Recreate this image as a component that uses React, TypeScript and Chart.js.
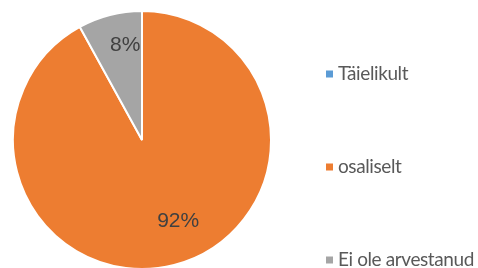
import React, { useEffect, useRef } from "react";
import { Chart, registerables } from "chart.js";

Chart.register(...registerables);

const categories = ["Täielikult", "osaliselt", "Ei ole arvestanud"];
const values = [0, 92, 8];
const valueLabels = ["0%", "92%", "8%"];
const colors = ["#5B9BD5", "#ED7D31", "#A5A5A5"];

const sliceLabelPlugin = {
  id: "sliceLabels",
  afterDatasetsDraw(chart: any, _args: any, opts: any) {
    const ctx = chart.ctx;
    const meta = chart.getDatasetMeta(0);
    ctx.save();
    ctx.font = "21px 'Liberation Sans', Arial, sans-serif";
    ctx.fillStyle = "#404040";
    ctx.textAlign = "center";
    ctx.textBaseline = "middle";
    meta.data.forEach((arc: any, i: number) => {
      if (!values[i]) return;
      const p = arc.getProps(["x", "y", "startAngle", "endAngle", "outerRadius"], true);
      const mid = (p.startAngle + p.endAngle) / 2 + (opts.shift[i] * Math.PI) / 180;
      const r = p.outerRadius * opts.frac[i];
      ctx.fillText(valueLabels[i], p.x + Math.cos(mid) * r, p.y + Math.sin(mid) * r);
    });
    ctx.restore();
  },
};

const sideLegendPlugin = {
  id: "sideLegend",
  afterDraw(chart: any, _args: any, opts: any) {
    const ctx = chart.ctx;
    ctx.save();
    ctx.font = "19px Lato, 'Noto Sans', sans-serif";
    ctx.textBaseline = "middle";
    ctx.textAlign = "left";
    try {
      (ctx as any).letterSpacing = "-0.4px";
    } catch (e) {}
    categories.forEach((c, i) => {
      const y = opts.top + i * opts.step;
      ctx.fillStyle = colors[i];
      ctx.fillRect(opts.x, y - 3.5, 7, 7);
      ctx.fillStyle = "#595959";
      ctx.fillText(c, opts.x + 12, y);
    });
    ctx.restore();
  },
};

export default function App() {
  const ref = useRef<HTMLCanvasElement>(null);
  useEffect(() => {
    if (!ref.current) return;
    const chart = new Chart(ref.current, {
      type: "pie",
      data: {
        labels: categories,
        datasets: [
          {
            data: values,
            backgroundColor: colors,
            borderColor: "#ffffff",
            borderWidth: 2,
          },
        ],
      },
      options: {
        responsive: false,
        animation: false,
        devicePixelRatio: 1,
        layout: { padding: { left: 12, top: 10, right: 206, bottom: 2 } },
        plugins: {
          legend: { display: false },
          tooltip: { enabled: false },
          sliceLabels: { frac: [0.7, 0.69, 0.75], shift: [0, -9.6, 4.4] },
          sideLegend: { x: 326, top: 74, step: 93 },
        } as any,
      },
      plugins: [sliceLabelPlugin, sideLegendPlugin],
    });
    return () => chart.destroy();
  }, []);
  return (
    <div
      style={{
        position: "fixed",
        left: 0,
        top: 0,
        width: 478,
        height: 268,
        overflow: "hidden",
        background: "#fff",
      }}
    >
      <canvas ref={ref} width={478} height={272} style={{ display: "block" }} />
    </div>
  );
}
